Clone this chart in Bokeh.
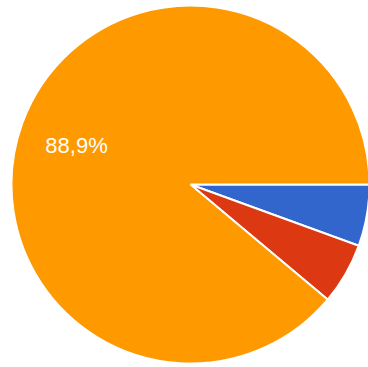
import math
from bokeh.plotting import figure
from bokeh.models import ColumnDataSource, Range1d
from bokeh.core.properties import value
from bokeh.embed import file_html
from bokeh.resources import INLINE

categories = ["A", "B", "C"]
values = [1, 1, 16]
colors = ["#3366cc", "#dc3912", "#ff9900"]
label_texts = ["5,6%", "5,6%", "88,9%"]

W, H = 368, 367
cx, cy, r = 190, H - 184, 179

total = float(sum(values))
starts, ends = [], []
cum = 0.0
for v in values:
    prev = cum
    cum += v
    starts.append(-2 * math.pi * cum / total)
    ends.append(-2 * math.pi * prev / total)

src = ColumnDataSource(dict(cat=categories, val=values, color=colors,
                            start=starts, end=ends,
                            x=[cx] * len(values), y=[cy] * len(values)))

p = figure(width=W, height=H, output_backend="svg", toolbar_location=None,
           x_range=Range1d(0, W), y_range=Range1d(0, H), min_border=0)
p.axis.visible = False
p.grid.visible = False
p.outline_line_color = None
p.background_fill_color = "white"
p.border_fill_color = "white"

p.wedge(x="x", y="y", radius=r, start_angle="start", end_angle="end",
        fill_color="color", line_color="white", line_width=2, source=src)

p.text(x=[76], y=[H - 145], text=[label_texts[2]], text_color="white",
       text_font=value("Liberation Sans"), text_font_size="22px",
       text_align="center", text_baseline="middle")

open("out.html", "w").write(file_html(p, INLINE))
